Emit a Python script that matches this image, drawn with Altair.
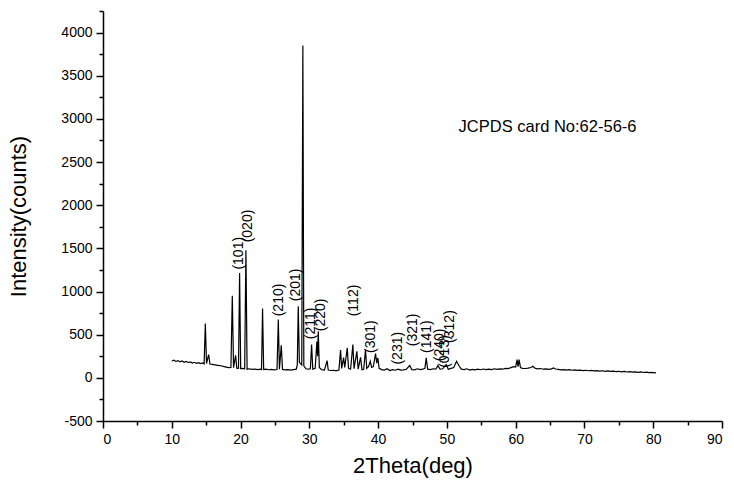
import altair as alt
import pandas as pd

FONT = "Liberation Sans"

two_theta = [
    10.0, 10.3, 10.6, 10.9, 11.2, 11.5, 11.8, 12.1, 12.4, 12.7, 13.0, 13.3, 13.6, 13.9, 14.2, 14.5, 14.7,
    14.88, 15.05, 15.36, 15.55, 15.9, 16.3, 16.7, 17.1, 17.5, 17.9, 18.3, 18.6, 18.8, 18.98, 19.28, 19.45,
    19.7, 19.86, 20.02, 20.3, 20.6, 20.78, 20.95, 21.3, 21.7, 22.1, 22.5, 22.9, 23.05, 23.2, 23.36, 23.7,
    24.1, 24.5, 24.9, 25.3, 25.49, 25.65, 25.92, 26.1, 26.5, 26.9, 27.3, 27.7, 28.1, 28.25, 28.39, 28.55,
    28.9, 29.06, 29.2, 29.5, 29.9, 30.15, 30.33, 30.5, 30.85, 31.1, 31.2, 31.3, 31.45, 31.8, 32.2, 32.58,
    32.75, 33.1, 33.5, 33.9, 34.3, 34.54, 34.7, 34.98, 35.15, 35.51, 35.7, 36.0, 36.33, 36.5, 36.91, 37.1,
    37.45, 37.65, 37.9, 38.17, 38.35, 38.6, 38.86, 39.05, 39.3, 39.63, 39.8, 39.96, 40.15, 40.5, 40.9,
    41.3, 41.7, 42.1, 42.5, 42.9, 43.3, 43.7, 44.1, 44.6, 44.9, 45.3, 45.7, 46.1, 46.5, 46.8, 47.0, 47.2,
    47.6, 48.0, 48.4, 48.7, 49.0, 49.4, 49.9, 50.2, 50.6, 51.0, 51.4, 51.8, 52.1, 52.5, 52.9, 53.3, 53.7,
    54.1, 54.5, 54.9, 55.3, 55.7, 56.1, 56.5, 56.9, 57.3, 57.7, 58.1, 58.5, 58.9, 59.3, 59.7, 60.0, 60.2,
    60.35, 60.5, 60.7, 61.0, 61.4, 61.8, 62.2, 62.5, 62.8, 63.2, 63.6, 64.0, 64.4, 64.8, 65.2, 65.5, 65.8,
    66.2, 66.6, 67.0, 67.4, 67.8, 68.2, 68.6, 69.0, 69.4, 69.8, 70.2, 70.6, 71.0, 71.4, 71.8, 72.2, 72.6,
    73.0, 73.4, 73.8, 74.2, 74.6, 75.0, 75.4, 75.8, 76.2, 76.6, 77.0, 77.4, 77.8, 78.2, 78.6, 79.0, 79.4,
    79.8, 80.2, 80.4,
]
intensity = [
    195, 205, 190, 200, 185, 195, 180, 190, 178, 185, 172, 180, 168, 176, 165, 172, 162,
    628, 165, 270, 160, 155, 150, 145, 140, 132, 125, 118, 120, 952, 118, 262, 112,
    110, 1215, 108, 110, 105, 1477, 100, 105, 98, 102, 96, 100, 95, 802, 96, 100,
    94, 98, 92, 96, 675, 100, 377, 98, 92, 96, 90, 95, 100, 150, 829, 180,
    150, 3850, 140, 105, 100, 105, 385, 100, 110, 420, 250, 539, 120, 95, 90, 200,
    90, 85, 88, 82, 90, 322, 110, 235, 120, 347, 110, 100, 385, 105, 308, 100,
    238, 95, 100, 327, 110, 130, 192, 120, 130, 281, 170, 230, 110, 95, 90,
    105, 85, 95, 88, 100, 90, 92, 100, 142, 95, 92, 105, 95, 100, 110, 231, 100,
    95, 105, 100, 142, 100, 105, 154, 100, 110, 120, 192, 134, 100, 95, 105, 90, 98,
    92, 100, 94, 102, 95, 100, 96, 105, 98, 104, 100, 110, 108, 118, 130, 125, 212,
    130, 212, 120, 110, 108, 112, 120, 134, 112, 105, 108, 100, 104, 98, 104, 115, 102,
    98, 92, 96, 90, 94, 88, 92, 86, 90, 84, 88, 82, 86, 80, 84, 78, 82,
    76, 80, 74, 78, 72, 76, 70, 74, 68, 72, 66, 70, 64, 68, 62, 66, 60,
    63, 58, 60,
]

hkl_labels = ["(101)", "(020)", "(210)", "(201)", "(211)", "(220)", "(112)",
              "(301)", "(231)", "(321)", "(141)", "(240)", "(013)", "(312)"]
hkl_x = [19.77, 21.03, 25.58, 28.0, 30.28, 31.73, 36.43, 39.0, 42.87, 45.1, 47.13, 48.93, 49.75, 50.48]
hkl_y = [1254, 1570, 713, 887, 447, 540, 713, 289, 154, 366, 289, 192, 116, 405]

note_text = ["JCPDS card No:62-56-6"]
note_x = [51.7]
note_y = [2910]

x_major = list(range(0, 91, 10))
x_minor = list(range(5, 90, 10))
y_major = list(range(-500, 4001, 500))
y_minor = list(range(-250, 4251, 500))

df = pd.DataFrame({"theta": two_theta, "counts": intensity})
lab_df = pd.DataFrame({"x": hkl_x, "y": hkl_y, "t": hkl_labels})
note_df = pd.DataFrame({"x": note_x, "y": note_y, "t": note_text})

x_scale = alt.Scale(domain=[0, 90], nice=False, zero=False)
y_scale = alt.Scale(domain=[-500, 4250], nice=False, zero=False)

common = dict(domainColor="black", domainWidth=1.5, tickColor="black", tickWidth=1.5,
              grid=False, labelFont=FONT, labelColor="black", labelFontSize=14,
              titleFont=FONT, titleColor="black", titleFontWeight="normal", titleFontSize=22,
              labelExpr="toString(datum.value)")

line = alt.Chart(df).mark_line(color="black", strokeWidth=1.2).encode(
    x=alt.X("theta:Q", scale=x_scale,
            axis=alt.Axis(values=x_major, title="2Theta(deg)", orient="bottom", tickSize=7,
                          labelPadding=4, titlePadding=9, **common)),
    y=alt.Y("counts:Q", scale=y_scale,
            axis=alt.Axis(values=y_major, title="Intensity(counts)", orient="left", tickSize=7,
                          labelPadding=4, titlePadding=30, **common)),
)

minor = alt.Chart(df).mark_line(opacity=0).encode(
    x=alt.X("theta:Q", scale=x_scale,
            axis=alt.Axis(values=x_minor, title="", orient="bottom", tickSize=4, labels=False,
                          domain=False, tickColor="black", tickWidth=1.5, grid=False)),
    y=alt.Y("counts:Q", scale=y_scale,
            axis=alt.Axis(values=y_minor, title="", orient="left", tickSize=4, labels=False,
                          domain=False, tickColor="black", tickWidth=1.5, grid=False)),
)

labels = alt.Chart(lab_df).mark_text(angle=270, align="left", baseline="middle",
                                     font=FONT, fontSize=14, color="black").encode(
    x=alt.X("x:Q", scale=x_scale, axis=None),
    y=alt.Y("y:Q", scale=y_scale, axis=None),
    text="t:N",
)

note = alt.Chart(note_df).mark_text(align="left", baseline="middle",
                                    font=FONT, fontSize=16.5, color="black").encode(
    x=alt.X("x:Q", scale=x_scale, axis=None),
    y=alt.Y("y:Q", scale=y_scale, axis=None),
    text="t:N",
)

chart = alt.layer(line, minor, labels, note).resolve_axis(
    x="independent", y="independent"
).properties(
    width=619, height=410,
    autosize=alt.AutoSizeParams(type="none"),
    padding={"left": 103, "top": 11, "right": 12, "bottom": 62},
    background="white",
).configure_view(stroke=None)

chart.save("out.html", embed_options={"renderer": "svg", "actions": False})
